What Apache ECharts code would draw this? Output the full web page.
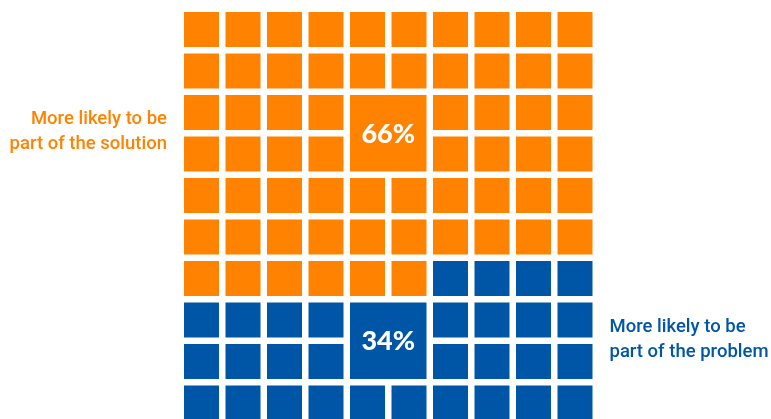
<!DOCTYPE html>
<html>
<head>
<meta charset="utf-8">
<title>Waffle chart</title>
<script src="https://cdn.jsdelivr.net/npm/echarts@6/dist/echarts.min.js"></script>
<style>
  html, body { margin: 0; padding: 0; background: #ffffff; }
  #chart { width: 771px; height: 419px; }
</style>
</head>
<body>
<div id="chart"></div>
<script>
// Share of respondents in each group (percent of 100 squares)
const categories = ['More likely to be\npart of the solution', 'More likely to be\npart of the problem'];
const percents = [66, 34];
const percentLabels = ['66%', '34%'];

// Layout / style constants
const COLS = 10;
const PITCH = 41.5;                 // px per square (square + gap)
const GRID_TOP = 12;
const CHART_H = 419;
const GAP = 6.5;
const COLORS = ['#ff8300', '#0056a6'];
const PCT_FONT = '900 27px Lato, "Open Sans", sans-serif';
const SIDE_FONT = '500 18.5px Roboto, "Open Sans", sans-serif';

// Build the cell lists: squares fill row by row from the top-left.
// Each group gets a 2x2 label block in the two middle columns, centred on its rows.
function buildCells() {
  const out = [];
  let start = 0;
  percents.forEach((pct, gi) => {
    const end = start + pct;
    const centre = (start + end) / 2 / COLS;
    const bRow = Math.floor(centre) - 1;
    const bCol = COLS / 2 - 1;
    const inBlock = (c, r) => c >= bCol && c <= bCol + 1 && r >= bRow && r <= bRow + 1;
    const cells = [];
    for (let k = start; k < end; k++) {
      const c = k % COLS, r = Math.floor(k / COLS);
      if (inBlock(c, r)) continue;
      cells.push([c, r, 1]);
    }
    cells.push([bCol, bRow, 2]);
    out.push(cells);
    start = end;
  });
  return out;
}
const cellData = buildCells();

function makeRender(gi) {
  return function (params, api) {
    const c = api.value(0), r = api.value(1), span = api.value(2);
    const p0 = api.coord([c, r]);
    const p1 = api.coord([c + span, r + span]);
    const x = p0[0], y = p0[1];
    const w = p1[0] - p0[0] - GAP, h = p1[1] - p0[1] - GAP;
    const rect = {
      type: 'rect',
      shape: { x: x, y: y, width: w, height: h },
      style: { fill: COLORS[gi] }
    };
    if (span === 1) return rect;
    const cy = y + h / 2;
    const sideX = gi === 0
      ? api.coord([0, 0])[0] - 17
      : api.coord([COLS, 0])[0] - GAP + 17;
    return {
      type: 'group',
      children: [
        rect,
        {
          type: 'text',
          style: {
            text: percentLabels[gi], x: x + w / 2, y: cy + 1,
            align: 'center', verticalAlign: 'middle',
            fill: '#ffffff', font: PCT_FONT
          }
        },
        {
          type: 'text',
          style: {
            text: categories[gi], x: sideX, y: cy - 1,
            align: gi === 0 ? 'right' : 'left', verticalAlign: 'middle',
            fill: COLORS[gi], font: SIDE_FONT, lineHeight: 25
          }
        }
      ]
    };
  };
}

// The bottom row runs past the chart edge, so the visible y range is
// the drawable height expressed in squares.
const visibleRows = (CHART_H - GRID_TOP) / PITCH;

const chart = echarts.init(document.getElementById('chart'), null, { renderer: 'canvas' });
chart.setOption({
  animation: false,
  backgroundColor: '#ffffff',
  grid: { left: 184, top: GRID_TOP, width: COLS * PITCH, bottom: 0 },
  xAxis: { type: 'value', min: 0, max: COLS, show: false },
  yAxis: { type: 'value', min: 0, max: visibleRows, inverse: true, show: false },
  series: categories.map((name, gi) => ({
    type: 'custom',
    name: name,
    clip: false,
    renderItem: makeRender(gi),
    encode: { x: 0, y: 1 },
    data: cellData[gi]
  }))
});
</script>
</body>
</html>
